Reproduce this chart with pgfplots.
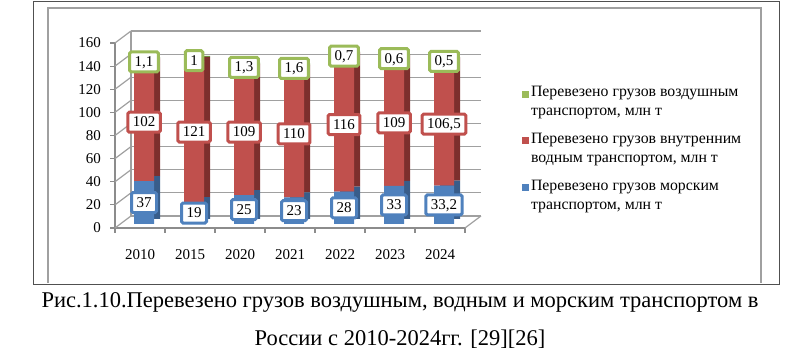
\documentclass[border=0pt]{standalone}
\usepackage{pgfplots}
\usepackage{pgfplotstable}
\pgfplotsset{compat=1.18}
\usepackage{fontspec}
\setmainfont{Liberation Serif}
\definecolor{cblue}{HTML}{4F81BD}
\definecolor{cred}{HTML}{C0504D}
\definecolor{cgreen}{HTML}{9BBB59}
\definecolor{dblue}{HTML}{385D8A}
\definecolor{dred}{HTML}{7D2F2D}
\definecolor{dgreen}{HTML}{71893F}
\definecolor{gridc}{HTML}{A0A0A0}
\definecolor{axc}{HTML}{8C8C8C}
\definecolor{framec}{HTML}{505050}

\pgfplotstableread{
x sea river air
0.5 37 102 1.1
1.5 19 121 1
2.5 25 109 1.3
3.5 23 110 1.6
4.5 28 116 0.7
5.5 33 109 0.6
6.5 33.2 106.5 0.5
}\datatab

\pgfplotstableread{
x ys ls yr lr yg lg
0.5 18.5 37 88 102 140.3 1,1
1.5 9.5 19 79.5 121 141.2 1
2.5 12.5 25 79.5 109 135.4 1,3
3.5 11.5 23 78 110 134.6 1,6
4.5 14 28 86 116 145.1 0,7
5.5 16.5 33 87.5 109 143.0 0,6
6.5 16.6 33,2 86.45 106,5 140.7 0,5
}\labtab

\pgfplotsset{
  base/.style={scale only axis, width=350pt, height=185pt, xmin=0, xmax=7,
    ymin=0, ymax=160, enlargelimits=false, clip=false},
  hid/.style={base, hide axis},
  lab/.style={only marks, mark=*, mark size=0pt, mark options={draw=none, fill=none},
    nodes near coords, point meta=explicit symbolic, nodes near coords align=center,
    every node near coord/.append style={draw=#1, line width=3pt, fill=white, text=black,
      inner xsep=5pt, inner ysep=4pt, text height=10.5pt, text depth=1.5pt,
      rounded corners=1.5pt, font=\fontsize{15}{15}\selectfont, anchor=center}},
}

\begin{document}
\begin{tikzpicture}
\useasboundingbox (0,0) rectangle (800pt,363pt);

% back wall grid
\begin{axis}[base, at={(131pt,147pt)}, anchor=south west,
  axis x line=none, axis y line*=left, axis line style={gridc, line width=1.2pt},
  ytick={0,20,...,160}, yticklabels={}, xtick=\empty, major tick length=0pt,
  ymajorgrids, grid style={gridc, line width=1.2pt}]
\addplot[draw=none] coordinates {(0,0)};
\end{axis}

% front axis with ticks and floor
\begin{axis}[base, at={(115pt,135pt)}, anchor=south west,
  axis lines*=left, axis line style={axc, line width=1.2pt},
  ytick={0,20,...,160},
  xtick={0.5,1.5,...,6.5}, xticklabels={2010,2015,2020,2021,2022,2023,2024},
  minor xtick={0,1,...,7}, tick align=outside,
  major tick length=5pt, minor tick length=5pt,
  major x tick style={draw=none}, minor x tick style={axc, line width=1.2pt},
  ytick style={axc, line width=1.2pt},
  tick label style={font=\fontsize{15}{15}\selectfont, text=black},
  yticklabel style={anchor=east, inner sep=0pt, xshift=-9pt},
  xticklabel style={anchor=north, inner sep=0pt, yshift=-16pt},
  /pgf/number format/assume math mode=true]
\addplot[draw=none] coordinates {(0,0)};
\pgfplotsinvokeforeach{0,20,...,160}{\draw[gridc, line width=1.2pt] (axis cs:0,#1) -- ++(16pt,12pt);}
\draw[gridc, line width=1.2pt] (axis cs:7,0) -- ++(16pt,12pt);
\end{axis}

% side faces
\begin{axis}[hid, at={(125pt,144pt)}, anchor=south west, ybar stacked, bar width=20pt]
\addplot[fill=dblue, draw=none] table[x=x,y=sea]{\datatab};
\addplot[fill=dred, draw=none] table[x=x,y=river]{\datatab};
\addplot[fill=dgreen, draw=none] table[x=x,y=air]{\datatab};
\end{axis}

% front faces
\begin{axis}[hid, at={(119pt,139pt)}, anchor=south west, ybar stacked, bar width=20pt,
  legend style={at={(1.151,0.757)}, anchor=north west, draw=none, fill=none, inner sep=0pt,
    row sep=12pt, font=\fontsize{15.8}{19}\selectfont, cells={anchor=west, align=left}},
  reverse legend,
  legend image code/.code={\fill[#1] (0pt,4pt) rectangle (7pt,11pt);}]
\addplot[fill=cblue, draw=none] table[x=x,y=sea]{\datatab};
\addlegendentry{Перевезено грузов морским\\транспортом, млн т}
\addplot[fill=cred, draw=none] table[x=x,y=river]{\datatab};
\addlegendentry{Перевезено грузов внутренним\\водным транспортом, млн т}
\addplot[fill=cgreen, draw=none] table[x=x,y=air]{\datatab};
\addlegendentry{Перевезено грузов воздушным\\транспортом, млн т}
\end{axis}

% data labels
\begin{axis}[hid, at={(119pt,139pt)}, anchor=south west]
\addplot[lab=cblue] table[x=x,y=ys,meta=ls]{\labtab};
\addplot[lab=cred] table[x=x,y=yr,meta=lr]{\labtab};
\addplot[lab=cgreen] table[x=x,y=yg,meta=lg]{\labtab};
\end{axis}

\draw[framec, line width=1pt] (33pt,78pt) rectangle (779pt,361pt);
\draw[gridc, line width=1.5pt] (48pt,80pt) -- (48pt,355pt) -- (761pt,355pt) -- (761pt,80pt);

\node[font=\fontsize{22.5}{27}\selectfont, inner sep=0pt, anchor=base] at (400pt,55pt)
  {Рис.1.10.Перевезено грузов воздушным, водным и морским транспортом в};
\node[font=\fontsize{22.5}{27}\selectfont, inner sep=0pt, anchor=base] at (400pt,17pt)
  {России с 2010-2024гг. [29][26]};
\end{tikzpicture}
\end{document}
